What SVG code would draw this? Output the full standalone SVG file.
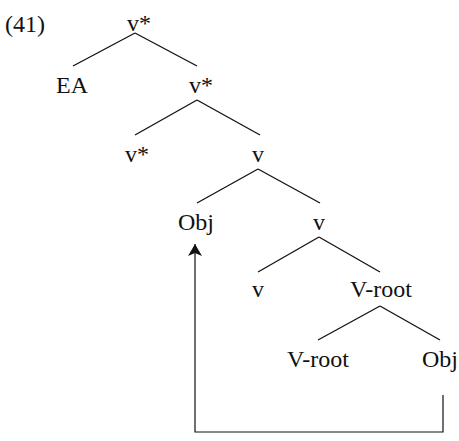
<svg xmlns="http://www.w3.org/2000/svg" width="459" height="441" viewBox="0 0 459 441">
<style>
text{font-family:"Liberation Serif","Times New Roman",serif;font-size:24px;fill:#111;text-anchor:middle}
.e line{stroke:#111;stroke-width:1.3;fill:none}
.m{stroke:#111;stroke-width:1.2;fill:none}
</style>
<defs>
<marker id="ah" viewBox="0 0 12 14" refX="12" refY="7" markerWidth="12" markerHeight="14" markerUnits="userSpaceOnUse" orient="auto">
<path d="M0,0 L12,7 L0,14 L3,7 Z" fill="#111"/>
</marker>
</defs>
<text x="25" y="32">(41)</text>
<g id="n1"><text x="139" y="31">v*</text></g>
<g id="n2"><text x="72" y="93">EA</text></g>
<g id="n3"><text x="201" y="93">v*</text></g>
<g id="n4"><text x="137" y="162">v*</text></g>
<g id="n5"><text x="258" y="162">v</text></g>
<g id="n6"><text x="196" y="230">Obj</text></g>
<g id="n7"><text x="319" y="230">v</text></g>
<g id="n8"><text x="258" y="297">v</text></g>
<g id="n9"><text x="381" y="297">V-root</text></g>
<g id="n10"><text x="318" y="367">V-root</text></g>
<g id="n11"><text x="440" y="367">Obj</text></g>
<g id="edges" class="e">
<line x1="135" y1="33" x2="73" y2="66"/>
<line x1="135" y1="33" x2="197" y2="66"/>
<line x1="197" y1="100" x2="135" y2="135"/>
<line x1="197" y1="100" x2="260" y2="135"/>
<line x1="258" y1="169" x2="197" y2="203"/>
<line x1="258" y1="169" x2="320" y2="203"/>
<line x1="319" y1="237" x2="258" y2="272"/>
<line x1="319" y1="237" x2="380" y2="272"/>
<line x1="380" y1="306" x2="318" y2="340"/>
<line x1="380" y1="306" x2="440" y2="340"/>
</g>
<g id="connectors">
<path class="m" d="M443,395 L443,432 L195,432 L195,244" marker-end="url(#ah)"/>
</g>
</svg>
